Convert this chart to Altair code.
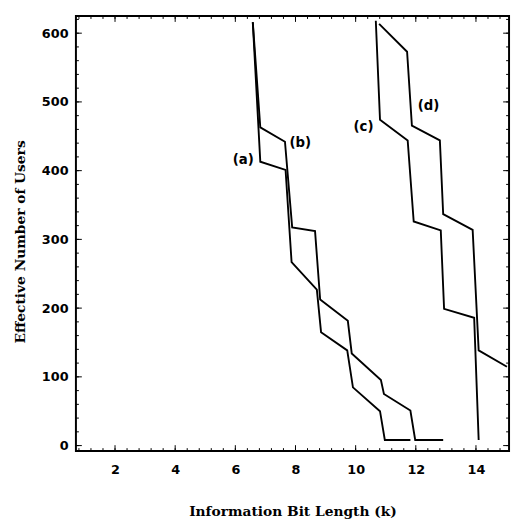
import altair as alt
import pandas as pd

# ---- data ----
a_x = [6.58, 6.83, 7.67, 7.87, 8.71, 8.85, 9.72, 9.91, 10.81, 10.97, 11.82]
a_y = [616, 413, 401, 267, 227, 165, 138.5, 84.7, 50, 8.2, 8.2]

b_x = [6.58, 6.83, 7.65, 7.89, 8.65, 8.82, 9.74, 9.87, 10.84, 10.94, 11.82, 11.98, 12.91]
b_y = [616, 463, 442, 317.5, 312, 212.5, 181.5, 134, 95.5, 75, 51, 8.2, 8.2]

c_x = [10.67, 10.81, 11.73, 11.93, 12.83, 12.94, 13.94, 14.09]
c_y = [618, 474, 444, 326, 313, 199, 186, 8.2]

d_x = [10.78, 11.71, 11.87, 12.80, 12.91, 13.89, 14.09, 15.03]
d_y = [613.5, 573, 465.6, 444, 336.7, 313.8, 138.5, 114.7]

label_text = ["(a)", "(b)", "(c)", "(d)"]
label_x = [6.26, 8.16, 10.26, 12.42]
label_y = [416, 439.5, 463, 494]

x_major = [2, 4, 6, 8, 10, 12, 14]
y_major = [0, 100, 200, 300, 400, 500, 600]
x_minor = [round(0.4 * k, 1) for k in range(2, 38)]
y_minor = [20 * k for k in range(0, 32)]

X_DOMAIN = [0.7, 15.1]
Y_DOMAIN = [-8, 625]
W, H = 440, 442

rows = []
for name, xs, ys in [("a", a_x, a_y), ("b", b_x, b_y), ("c", c_x, c_y), ("d", d_x, d_y)]:
    for i, (xv, yv) in enumerate(zip(xs, ys)):
        rows.append({"series": name, "order": i, "x": xv, "y": yv})
lines_df = pd.DataFrame(rows)
labels_df = pd.DataFrame({"label": label_text, "x": label_x, "y": label_y})

xscale = alt.Scale(domain=X_DOMAIN, nice=False, zero=False)
yscale = alt.Scale(domain=Y_DOMAIN, nice=False, zero=False)

xaxis = alt.Axis(
    values=x_major, title="Information Bit Length (k)", domain=False, ticks=False,
    grid=False, labelFont="DejaVu Sans", labelFontWeight="bold", labelFontSize=13,
    labelColor="black", labelPadding=13, titleFont="DejaVu Serif", titleFontWeight="bold",
    titleFontSize=14, titleColor="black", titlePadding=28, labelFlush=False,
)
yaxis = alt.Axis(
    values=y_major, title="Effective Number of Users", domain=False, ticks=False,
    grid=False, labelFont="DejaVu Sans", labelFontWeight="bold", labelFontSize=13,
    labelColor="black", labelPadding=8, titleFont="DejaVu Serif", titleFontWeight="bold",
    titleFontSize=14, titleColor="black", titlePadding=14, labelFlush=False,
    titleY=229,
)

lines = alt.Chart(lines_df).mark_line(color="black", strokeWidth=1.9, clip=True).encode(
    x=alt.X("x:Q", scale=xscale, axis=xaxis),
    y=alt.Y("y:Q", scale=yscale, axis=yaxis),
    detail="series:N",
    order="order:Q",
)

labels = alt.Chart(labels_df).mark_text(
    font="DejaVu Sans", fontWeight="bold", fontSize=13.5, color="black"
).encode(
    x=alt.X("x:Q", scale=xscale, axis=xaxis),
    y=alt.Y("y:Q", scale=yscale, axis=yaxis),
    text="label:N",
)


def xticks(vals, size):
    df = pd.DataFrame({"t": vals})
    bottom = alt.Chart(df).mark_rule(color="black", strokeWidth=1).encode(
        x=alt.X("t:Q", scale=xscale, axis=xaxis),
        y=alt.value(H), y2=alt.value(H - size),
    )
    top = alt.Chart(df).mark_rule(color="black", strokeWidth=1).encode(
        x=alt.X("t:Q", scale=xscale, axis=xaxis),
        y=alt.value(0), y2=alt.value(size),
    )
    return [bottom, top]


def yticks(vals, size):
    df = pd.DataFrame({"t": vals})
    left = alt.Chart(df).mark_rule(color="black", strokeWidth=1).encode(
        y=alt.Y("t:Q", scale=yscale, axis=yaxis),
        x=alt.value(0), x2=alt.value(size),
    )
    right = alt.Chart(df).mark_rule(color="black", strokeWidth=1).encode(
        y=alt.Y("t:Q", scale=yscale, axis=yaxis),
        x=alt.value(W), x2=alt.value(W - size),
    )
    return [left, right]


layers = [lines, labels]
layers += xticks(x_major, 6) + xticks(x_minor, 3)
layers += yticks(y_major, 6) + yticks(y_minor, 3)

chart = alt.layer(*layers).properties(
    width=W, height=H,
    autosize=alt.AutoSizeParams(type="none"),
    padding={"left": 69, "top": 4, "right": 3, "bottom": 73},
).configure_view(stroke="black", strokeWidth=2)

chart.save("out.html", embed_options={"renderer": "svg", "actions": False})
